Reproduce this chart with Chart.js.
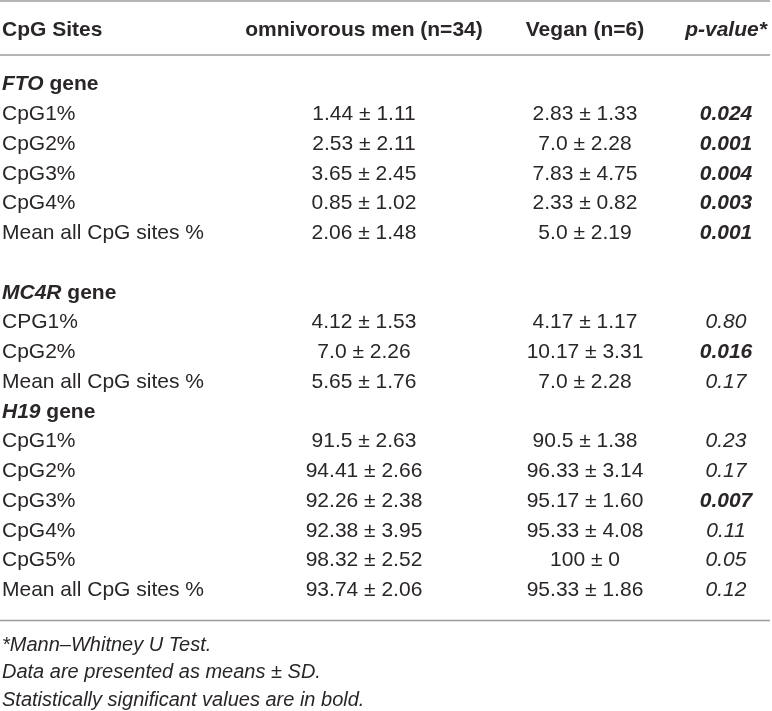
<!DOCTYPE html>
<html>
<head>
<meta charset="utf-8">
<title>CpG methylation table</title>
<script src="https://cdn.jsdelivr.net/npm/chart.js@4/dist/chart.umd.min.js"></script>
<style>
    html, body { margin: 0; padding: 0; background: #fff; }
    #wrap { width: 772px; height: 711px; }
</style>
</head>
<body>
<div id="wrap"><canvas id="tableChart" width="772" height="711"></canvas></div>
<script>
// Table content
const headers = ['CpG Sites', 'omnivorous men (n=34)', 'Vegan (n=6)', 'p-value*'];
const genes = ['FTO', 'MC4R', 'H19'];

const ftoSites = ['CpG1%', 'CpG2%', 'CpG3%', 'CpG4%', 'Mean all CpG sites %'];
const ftoOmnivorous = ['1.44 ± 1.11', '2.53 ± 2.11', '3.65 ± 2.45', '0.85 ± 1.02', '2.06 ± 1.48'];
const ftoVegan = ['2.83 ± 1.33', '7.0 ± 2.28', '7.83 ± 4.75', '2.33 ± 0.82', '5.0 ± 2.19'];
const ftoP = ['0.024', '0.001', '0.004', '0.003', '0.001'];

const mc4rSites = ['CPG1%', 'CpG2%', 'Mean all CpG sites %'];
const mc4rOmnivorous = ['4.12 ± 1.53', '7.0 ± 2.26', '5.65 ± 1.76'];
const mc4rVegan = ['4.17 ± 1.17', '10.17 ± 3.31', '7.0 ± 2.28'];
const mc4rP = ['0.80', '0.016', '0.17'];

const h19Sites = ['CpG1%', 'CpG2%', 'CpG3%', 'CpG4%', 'CpG5%', 'Mean all CpG sites %'];
const h19Omnivorous = ['91.5 ± 2.63', '94.41 ± 2.66', '92.26 ± 2.38', '92.38 ± 3.95', '98.32 ± 2.52', '93.74 ± 2.06'];
const h19Vegan = ['90.5 ± 1.38', '96.33 ± 3.14', '95.17 ± 1.60', '95.33 ± 4.08', '100 ± 0', '95.33 ± 1.86'];
const h19P = ['0.23', '0.17', '0.007', '0.11', '0.05', '0.12'];

const footnotes = [
    '*Mann\u2013Whitney U Test.',
    'Data are presented as means ± SD.',
    'Statistically significant values are in bold.'
];

const significance = 0.05; // p below this is printed bold

// Layout (column anchors in px, rows in row units)
const columnX = [2, 364, 585, 726];
const columnAlign = ['left', 'center', 'center', 'center'];
const rowTop = 84.5;     // px of first gene row
const rowHeight = 29.75; // px per row
const headerRow = -1.832;
const gapAfterGroup = [1, 0, 0];
const rules = [-2.807, -0.992, 18.017];
const footnoteRows = [18.84, 19.77, 20.69];
const fontFamily = '"Liberation Sans", Arial, Helvetica, sans-serif';
const textColor = '#2a2627';

// Build the row points
const groups = [
    { sites: ftoSites, omni: ftoOmnivorous, vegan: ftoVegan, p: ftoP },
    { sites: mc4rSites, omni: mc4rOmnivorous, vegan: mc4rVegan, p: mc4rP },
    { sites: h19Sites, omni: h19Omnivorous, vegan: h19Vegan, p: h19P }
];

const cells = [];
headers.forEach((h, c) => cells.push({ x: columnX[c], y: headerRow, text: h, kind: c === 3 ? 'headerItalic' : 'header', align: columnAlign[c] }));

let row = 0;
groups.forEach((g, gi) => {
    cells.push({ x: columnX[0], y: row, text: genes[gi], kind: 'gene', align: 'left' });
    row++;
    g.sites.forEach((site, i) => {
        cells.push({ x: columnX[0], y: row, text: site, kind: 'body', align: 'left' });
        cells.push({ x: columnX[1], y: row, text: g.omni[i], kind: 'body', align: 'center' });
        cells.push({ x: columnX[2], y: row, text: g.vegan[i], kind: 'body', align: 'center' });
        const sig = parseFloat(g.p[i]) < significance;
        cells.push({ x: columnX[3], y: row, text: g.p[i], kind: sig ? 'pBold' : 'p', align: 'center' });
        row++;
    });
    row += gapAfterGroup[gi];
});

footnotes.forEach((f, i) => cells.push({ x: columnX[0], y: footnoteRows[i], text: f, kind: 'note', align: 'left' }));

// Plugin: write each cell's text at its point position, plus table rules
const tableText = {
    id: 'tableText',
    beforeDatasetsDraw(chart) {
        const { ctx, chartArea, scales } = chart;
        ctx.save();
        ctx.strokeStyle = '#9d9d9d';
        ctx.lineWidth = 1.6;
        rules.forEach(r => {
            const y = scales.y.getPixelForValue(r);
            ctx.beginPath();
            ctx.moveTo(chartArea.left, y);
            ctx.lineTo(chartArea.right - 2, y);
            ctx.stroke();
        });
        ctx.restore();
    },
    afterDatasetsDraw(chart) {
        const { ctx } = chart;
        const meta = chart.getDatasetMeta(0);
        ctx.save();
        ctx.fillStyle = textColor;
        ctx.textBaseline = 'middle';
        meta.data.forEach((pt, i) => {
            const cell = chart.data.datasets[0].data[i];
            ctx.textAlign = cell.align;
            if (cell.kind === 'gene') {
                ctx.textAlign = 'left';
                ctx.font = 'italic bold 21px ' + fontFamily;
                ctx.fillText(cell.text, pt.x, pt.y);
                const w = ctx.measureText(cell.text).width;
                ctx.font = 'bold 21px ' + fontFamily;
                ctx.fillText(' gene', pt.x + w, pt.y);
                return;
            }
            if (cell.kind === 'header') ctx.font = 'bold 21px ' + fontFamily;
            else if (cell.kind === 'headerItalic') ctx.font = 'italic bold 21px ' + fontFamily;
            else if (cell.kind === 'pBold') ctx.font = 'italic bold 21px ' + fontFamily;
            else if (cell.kind === 'p') ctx.font = 'italic 21px ' + fontFamily;
            else if (cell.kind === 'note') ctx.font = 'italic 20px ' + fontFamily;
            else ctx.font = '21px ' + fontFamily;
            ctx.fillText(cell.text, pt.x, pt.y);
        });
        ctx.restore();
    }
};

document.addEventListener('DOMContentLoaded', () => {
    const ctx = document.getElementById('tableChart').getContext('2d');
    new Chart(ctx, {
        type: 'scatter',
        data: {
            datasets: [{
                label: 'cells',
                data: cells,
                pointRadius: 0,
                pointHoverRadius: 0
            }]
        },
        options: {
            responsive: false,
            animation: false,
            events: [],
            layout: { padding: 0 },
            plugins: {
                legend: { display: false },
                tooltip: { enabled: false }
            },
            scales: {
                x: { type: 'linear', display: false, min: 0, max: 772 },
                y: { type: 'linear', display: false, reverse: true, min: -rowTop / rowHeight, max: (711 - rowTop) / rowHeight }
            }
        },
        plugins: [tableText]
    });
});
</script>
</body>
</html>
